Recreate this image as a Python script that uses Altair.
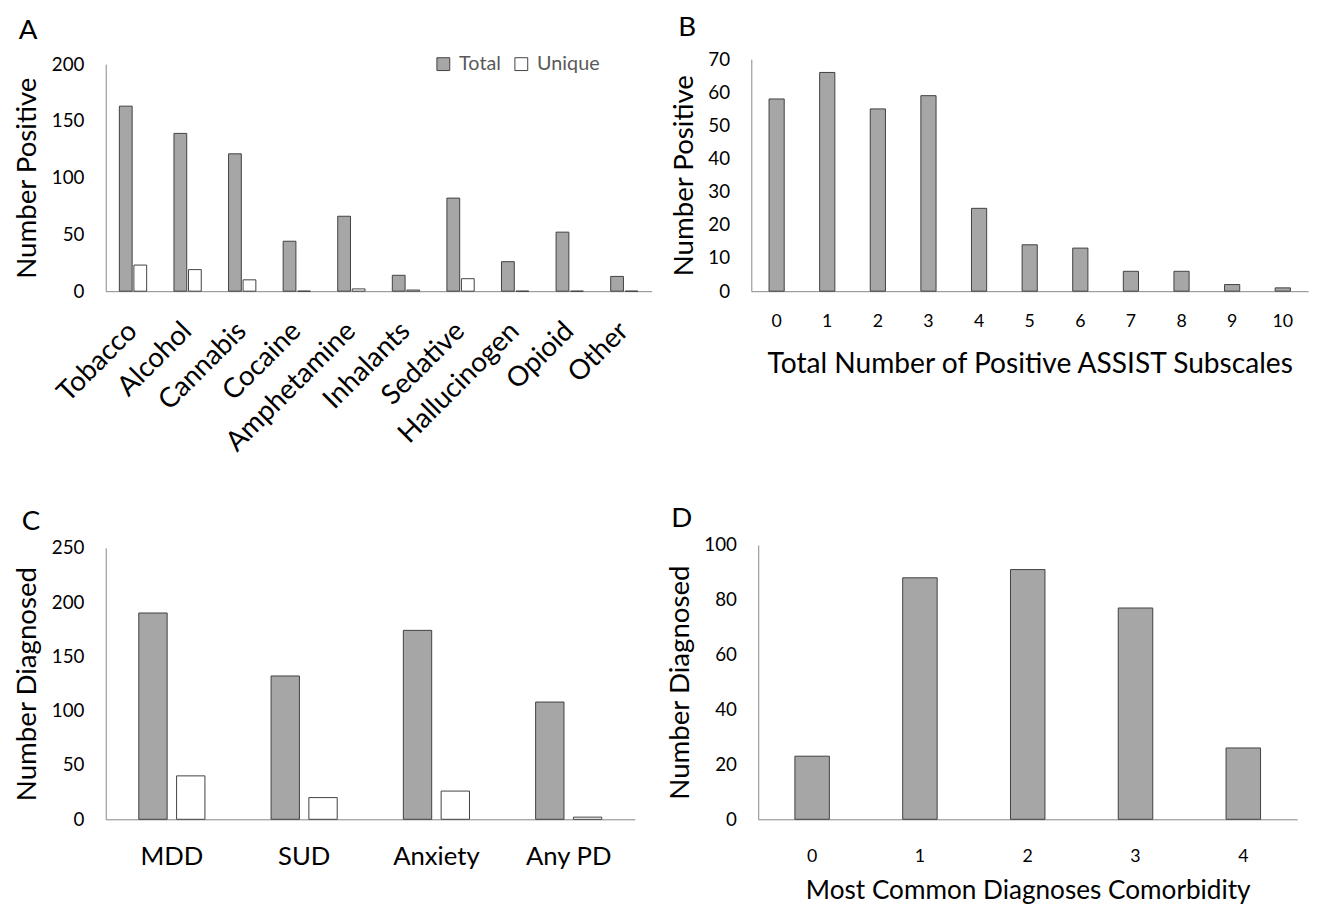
import altair as alt
import pandas as pd

# ---- data ----
substances = ["Tobacco", "Alcohol", "Cannabis", "Cocaine", "Amphetamine",
              "Inhalants", "Sedative", "Hallucinogen", "Opioid", "Other"]
subst_total = [163, 139, 121, 44, 66, 14, 82, 26, 52, 13]
subst_unique = [23, 19, 10, 0, 2, 1, 11, 0, 0, 0]

assist_n = ["0", "1", "2", "3", "4", "5", "6", "7", "8", "9", "10"]
assist_counts = [58, 66, 55, 59, 25, 14, 13, 6, 6, 2, 1]

diagnoses = ["MDD", "SUD", "Anxiety", "Any PD"]
diag_total = [190, 132, 174, 108]
diag_unique = [40, 20, 26, 2]

comorb_n = ["0", "1", "2", "3", "4"]
comorb_counts = [23, 88, 91, 77, 26]

groups = ["Total", "Unique"]

FONT = "Lato"
GREY = "#a6a6a6"
EDGE = "#404040"

dfA = pd.DataFrame({
    "substance": substances * 2,
    "group": [groups[0]] * len(substances) + [groups[1]] * len(substances),
    "count": subst_total + subst_unique,
})
dfB = pd.DataFrame({"n": assist_n, "count": assist_counts})
dfC = pd.DataFrame({
    "diagnosis": diagnoses * 2,
    "group": [groups[0]] * len(diagnoses) + [groups[1]] * len(diagnoses),
    "count": diag_total + diag_unique,
})
dfD = pd.DataFrame({"n": comorb_n, "count": comorb_counts})

fill_scale = alt.Scale(domain=groups, range=[GREY, "#ffffff"])


def panel_title(letter, offset, dx):
    return alt.TitleParams(text=letter, anchor="start", fontSize=28, font=FONT,
                           fontWeight="normal", color="#000000", offset=offset, dx=dx)


H1 = 235
H2 = 278

A = alt.Chart(dfA).mark_bar(stroke=EDGE, strokeWidth=1).encode(
    x=alt.X("substance:N", sort=substances,
            scale=alt.Scale(paddingInner=0.5, paddingOuter=0.25),
            axis=alt.Axis(title=None, labelAngle=-45, labelAlign="right",
                          labelBaseline="middle", labelFontSize=28, labelPadding=36)),
    xOffset=alt.XOffset("group:N", sort=groups, scale=alt.Scale(paddingInner=0.12)),
    y=alt.Y("count:Q", scale=alt.Scale(domain=[0, 200], nice=False, range=[H1, 5]),
            axis=alt.Axis(values=[0, 50, 100, 150, 200], title="Number Positive")),
    fill=alt.Fill("group:N", scale=fill_scale,
                  legend=alt.Legend(title=None, orient="none", direction="horizontal",
                                    legendX=332, legendY=-5, symbolType="square",
                                    symbolSize=169, symbolStrokeColor=EDGE,
                                    symbolStrokeWidth=1, labelFontSize=20,
                                    labelColor="#595959", labelFont=FONT,
                                    labelOffset=6, columnPadding=10)),
).properties(width=553, height=H1, title=panel_title("A", 9, 5))

B = alt.Chart(dfB).mark_bar(stroke=EDGE, strokeWidth=1, fill=GREY).encode(
    x=alt.X("n:N", sort=assist_n,
            scale=alt.Scale(paddingInner=0.7, paddingOuter=0.35),
            axis=alt.Axis(title="Total Number of Positive ASSIST Subscales",
                          labelAngle=0, labelFontSize=18, labelPadding=22,
                          titlePadding=19, titleFontSize=28.5)),
    y=alt.Y("count:Q", scale=alt.Scale(domain=[0, 70], nice=False),
            axis=alt.Axis(values=list(range(0, 71, 10)), title="Number Positive")),
).properties(width=564, height=H1, title=panel_title("B", 9, 8))

C = alt.Chart(dfC).mark_bar(stroke=EDGE, strokeWidth=1).encode(
    x=alt.X("diagnosis:N", sort=diagnoses,
            scale=alt.Scale(paddingInner=0.5, paddingOuter=0.25),
            axis=alt.Axis(title=None, labelAngle=0, labelFontSize=26, labelPadding=25)),
    xOffset=alt.XOffset("group:N", sort=groups, scale=alt.Scale(paddingInner=0.25)),
    y=alt.Y("count:Q", scale=alt.Scale(domain=[0, 250], nice=False, range=[H2, 3]),
            axis=alt.Axis(values=[0, 50, 100, 150, 200, 250], title="Number Diagnosed")),
    fill=alt.Fill("group:N", scale=fill_scale, legend=None),
).properties(width=536, height=H2, title=panel_title("C", 3, 8))

D = alt.Chart(dfD).mark_bar(stroke=EDGE, strokeWidth=1, fill=GREY).encode(
    x=alt.X("n:N", sort=comorb_n,
            scale=alt.Scale(paddingInner=0.68, paddingOuter=0.34),
            axis=alt.Axis(title="Most Common Diagnoses Comorbidity",
                          labelAngle=0, labelFontSize=18, labelPadding=29,
                          titlePadding=12, titleFontSize=26.5)),
    y=alt.Y("count:Q", scale=alt.Scale(domain=[0, 100], nice=False),
            axis=alt.Axis(values=[0, 20, 40, 60, 80, 100], title="Number Diagnosed")),
).properties(width=546, height=H2, title=panel_title("D", 3, 5))


def indep(c):
    return c.resolve_scale(fill="independent", xOffset="independent").resolve_legend(
        fill="independent")


row1 = indep(alt.hconcat(A, B, spacing=18))
row2 = indep(alt.hconcat(C, D, spacing=31))

chart = indep(alt.vconcat(row1, row2, spacing=49)).properties(
    background="white",
    padding={"top": 0, "left": 5, "right": 5, "bottom": 0}).configure_axis(
    domainColor="#868686", domainWidth=1, ticks=False, grid=False,
    labelFont=FONT, titleFont=FONT, labelColor="#000000", titleColor="#000000",
    titleFontWeight="normal", labelFontSize=19, titleFontSize=28,
).configure_axisY(labelPadding=22, titlePadding=10).configure_view(stroke=None)

chart.save("out.html", embed_options={"renderer": "svg", "actions": False})
